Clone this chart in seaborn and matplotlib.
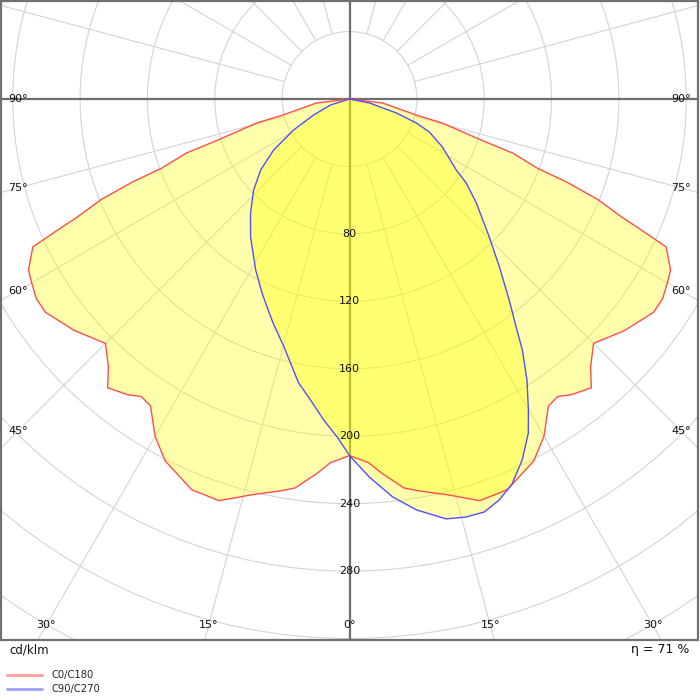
import numpy as np
import matplotlib
matplotlib.use("Agg")
import matplotlib.pyplot as plt
from matplotlib.lines import Line2D
from matplotlib.patches import Circle
import seaborn as sns

# ---------------- data (cd/klm) ----------------
# C0/C180 plane (symmetric)
gamma_c0 = [0, 3, 5, 8, 10, 14, 18, 22, 23, 27, 30, 33, 35, 37, 40, 42, 45, 50, 55,
            57.5, 60, 62, 65, 65.8, 66.6, 68, 69.1, 69.8, 71.7, 72.7, 75.5, 76.5, 83, 90]
int_c0 = [211.5, 216, 223, 233, 236, 242, 250.5, 250, 248, 241, 231, 217, 215.5, 219.5, 223.5,
          214, 205, 213.5, 220.5, 220.5, 218, 216, 207.5, 191, 176, 159, 138, 119, 102, 82,
          57, 40.5, 20, 0]
# C90 half plane
gamma_c90 = [0, 3, 6.2, 9.3, 13, 15.6, 18.1, 20.5, 22.9, 25.6, 28.2, 30, 32.3, 34.6, 36.2,
             38.5, 41.8, 45.4, 50.7, 54.3, 56.4, 62.7, 67.6, 70.3, 73.4, 78.7, 90]
int_c90 = [211.5, 224.5, 237.4, 247, 255.6, 257.4, 257.7, 253.9, 248, 237.4, 224.8, 212.5,
           197.3, 180.8, 167.6, 152.4, 133.6, 116.6, 97.4, 85.4, 76.2, 62.1, 51.3, 42.2,
           29.1, 12.1, 0]
# C270 half plane
gamma_c270 = [0, 2, 4.6, 7.4, 10.2, 15, 19, 24, 28.8, 35.7, 41, 46.5, 51.4, 56.1, 61, 66,
              72.5, 90]
int_c270 = [211.5, 201, 191, 180, 171, 151.5, 140, 127, 115.7, 100.7, 89.6, 78.5, 67.5, 54.3,
            38, 23.4, 11.8, 0]

angle_labels = [0, 15, 30, 45, 60, 75, 90]
radial_labels = [80, 120, 160, 200, 240, 280]
series_names = ["C0/C180", "C90/C270"]
efficiency = "η = 71 %"
unit_label = "cd/klm"

# ---------------- styling ----------------
sns.set_style("white")
plt.rcParams["font.family"] = ["DejaVu Sans"]

K = 1.686  # px per cd/klm
CX, CY = 349, 99
fig = plt.figure(figsize=(7, 7), dpi=100)
ax = fig.add_axes([1 / 700, 60 / 700, 697 / 700, 639 / 700])
ax.set_xlim(-CX / K, (698 - CX) / K)
ax.set_ylim(-(640 - CY) / K, (CY - 1) / K)
ax.set_xticks([])
ax.set_yticks([])
for s in ax.spines.values():
    s.set_color("#707070")
    s.set_linewidth(1.6)
    s.set_zorder(10)

grid_c = "#d4d4d4"
# circles
for r in range(40, 441, 40):
    ax.add_patch(Circle((0, 0), r, fill=False, ec=grid_c, lw=0.8, zorder=1))
# radial lines every 15 deg starting at r=40
for a in range(0, 360, 15):
    if a % 90 == 0:
        continue
    t = np.deg2rad(a)
    ax.plot([40 * np.sin(t), 600 * np.sin(t)], [-40 * np.cos(t), -600 * np.cos(t)],
            color=grid_c, lw=0.8, zorder=1)
# main axes
ax.axhline(0, color="#6e6e6e", lw=1.6, zorder=1.5)
ax.axvline(0, color="#6e6e6e", lw=1.6, zorder=1.5)


def curve(g_left, i_left, g_right, i_right):
    gl = np.deg2rad(np.array(g_left, float))[::-1]
    il = np.array(i_left, float)[::-1]
    gr = np.deg2rad(np.array(g_right, float))
    ir = np.array(i_right, float)
    xs = np.concatenate([-il * np.sin(gl), ir * np.sin(gr)])
    ys = np.concatenate([-il * np.cos(gl), -ir * np.cos(gr)])
    return xs, ys


x0, y0 = curve(gamma_c0, int_c0, gamma_c0, int_c0)
x9, y9 = curve(gamma_c270, int_c270, gamma_c90, int_c90)

ax.fill(x0, y0, color="#ffff00", alpha=0.33, lw=0, zorder=2)
ax.fill(x9, y9, color="#ffff00", alpha=0.33, lw=0, zorder=2)
red = "#ff4d4d"
blue = "#5050ff"
sns.lineplot(x=x0, y=y0, sort=False, estimator=None, color=red, lw=1.0, ax=ax, zorder=3)
sns.lineplot(x=x9, y=y9, sort=False, estimator=None, color=blue, lw=1.0, ax=ax, zorder=3)

# angle labels
xl = (CX - 17) / K
xr = (698 - CX - 17) / K
yb = (640 - CY - 15) / K
for a in angle_labels:
    t = np.deg2rad(a)
    for side in ([1] if a == 0 else [-1, 1]):
        ts = [yb / np.cos(t)] if np.cos(t) > 1e-9 else []
        lim = xr if side > 0 else xl
        if np.sin(t) > 1e-9:
            ts.append(lim / np.sin(t))
        tt = min(ts)
        ax.text(side * tt * np.sin(t), -tt * np.cos(t), f"{a}°", ha="center", va="center",
                fontsize=8, color="#111111", zorder=5)
for r in radial_labels:
    ax.text(0, -r, str(r), ha="center", va="center", fontsize=8, color="#111111", zorder=5)

fig.text(9 / 700, 1 - 650 / 700, unit_label, ha="left", va="center", fontsize=8.5, color="#111111")
fig.text(689 / 700, 1 - 650 / 700, efficiency, ha="right", va="center", fontsize=9,
         color="#111111")
handles = [Line2D([], [], color=red, lw=2, alpha=0.55), Line2D([], [], color=blue, lw=2, alpha=0.55)]
fig.legend(handles, series_names, loc="upper left", bbox_to_anchor=(7 / 700, 1 - 670 / 700),
           frameon=False, fontsize=7.2, handlelength=3.5, handletextpad=0.9,
           labelspacing=0.4, borderpad=0.0, borderaxespad=0.0)
fig.savefig("out.png", dpi=100)
